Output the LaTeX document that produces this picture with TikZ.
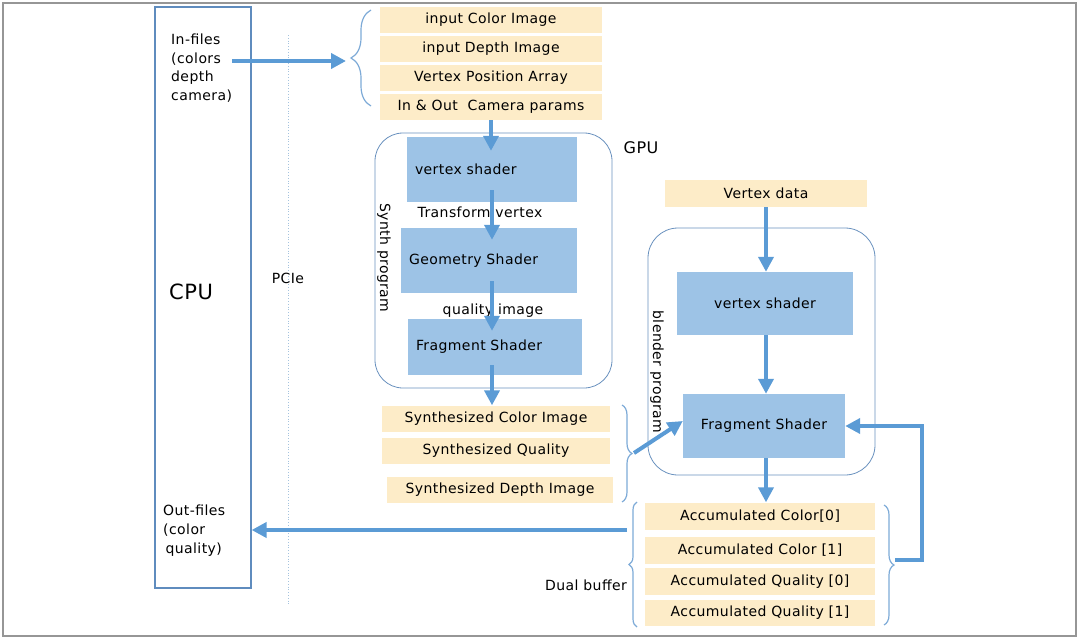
\documentclass[tikz,border=0pt]{standalone}
\usepackage{fontspec}
\setmainfont[LetterSpace=3]{DejaVu Sans}
\usetikzlibrary{arrows.meta,decorations.pathreplacing}

\definecolor{notefill}{RGB}{253,236,200}
\definecolor{shadefill}{RGB}{157,195,230}
\definecolor{flowblue}{RGB}{91,155,213}
\definecolor{progline}{RGB}{105,145,190}
\definecolor{cpuline}{RGB}{95,140,190}
\definecolor{brline}{RGB}{125,170,215}
\definecolor{pcieline}{RGB}{165,195,222}
\definecolor{framegray}{RGB}{150,150,150}

\newcommand\lbl{\fontsize{14}{16}\selectfont}

\tikzset{
  note/.style={fill=notefill, inner sep=0pt, minimum height=26pt, font=\lbl},
  shade/.style={fill=shadefill, inner sep=0pt, font=\lbl},
  prog/.style={draw=progline, line width=0.8pt, rounded corners=28pt},
  flow/.style={flowblue, line width=4pt, -{Triangle[length=15pt,width=15pt]}},
  curly/.style={brline, line width=1.2pt, decorate, decoration={brace,amplitude=#1}},
}

\begin{document}
\begin{tikzpicture}[x=1pt,y=-1pt]
		%%%%% START %%%%%
		\useasboundingbox (0,0) rectangle (1078,640);
		\draw[framegray, line width=1.5pt] (3,3) rectangle (1076,636);
		
		% host side
		\node[draw=cpuline, line width=1.2pt, minimum width=96pt, minimum height=581pt, inner sep=0pt] (cpu) at (203,297.5) {};
		\node[font=\fontsize{21}{24}\selectfont] (cpulbl) at (191,292) {CPU};
		\node[font=\lbl, align=left, anchor=north west, inner sep=0pt] (infiles) at (171,34) {In-files\\[2.5pt](colors\\[2.5pt]depth\\[2.5pt]camera)};
		\node[font=\lbl, align=left, anchor=north west, inner sep=0pt] (outfiles) at (163,505) {Out-files\\[3pt](color\\[3pt]\,quality)};
		
		\draw[pcieline, line width=0.8pt, dotted] (288,35) -- (288,605);
		\node[font=\lbl] (pcie) at (288,278) {PCIe};
		
		% inputs
		\node[note, minimum width=222pt] (incol) at (491,20) {input Color Image};
		\node[note, minimum width=222pt] (indep) at (491,49) {input Depth Image};
		\node[note, minimum width=222pt] (invtx) at (491,78) {Vertex Position Array};
		\node[note, minimum width=222pt] (incam) at (491,107) {In \& Out \ Camera params};
		\draw[curly=20pt] (371,106) -- (371,10);
		\coordinate (inbr) at (346,61);
		\draw[flow] (infiles.east |- inbr) -- (inbr);
		
		% synth program
		\node[font=\fontsize{16}{18}\selectfont] (gpu) at (641,148) {GPU};
		\draw[prog] (375,133) rectangle (612,388);
		\node[font=\lbl, rotate=-90] (synlbl) at (384,258) {Synth program};
		\node[shade, text width=154pt, inner xsep=8pt, minimum height=65pt, align=left] (sv) at (492,169.5) {vertex shader};
		\node[shade, text width=160pt, inner xsep=8pt, minimum height=65pt, align=left] (sg) at (489,260.5) {Geometry Shader};
		\node[shade, text width=158pt, inner xsep=8pt, minimum height=56pt, align=left] (sf) at (495,347) {Fragment Shader};
		\node[font=\lbl] (tv) at (480,212) {Transform vertex};
		\node[font=\lbl] (qi) at (493,311) {quality image};
		\draw[flow] (incam.south) -- ([yshift=-14pt]incam.south |- sv.north);
		\draw[flow, shorten <=-12pt, shorten >=-12pt] (sv.south) -- (sv.south |- sg.north);
		\draw[flow, shorten <=-12pt, shorten >=-12pt] (sv.south |- sg.south) -- (sv.south |- sf.north);
		
		% synthesized outputs
		\node[note, minimum width=228pt] (sycol) at (496,418.5) {Synthesized Color Image};
		\node[note, minimum width=228pt] (syqua) at (496,451) {Synthesized Quality};
		\node[note, minimum width=226pt] (sydep) at (500,490) {Synthesized Depth Image};
		\draw[flow, shorten <=-10pt] (sv.south |- sf.south) -- (sv.south |- sycol.north);
		\draw[curly=10pt] (622,405) -- (622,502);
		\coordinate (sybr) at (634,453);
		
		% blender program
		\node[note, minimum width=202pt, minimum height=27pt] (vdata) at (766,193.5) {Vertex data};
		\draw[prog, rounded corners=30pt] (648,228) rectangle (875,475);
		\node[font=\lbl, rotate=-90] (blelbl) at (657,372) {blender program};
		\node[shade, minimum width=176pt, minimum height=63pt] (bv) at (765,303.5) {vertex shader};
		\node[shade, minimum width=162pt, minimum height=64pt] (bf) at (764,426) {Fragment Shader};
		\draw[flow] (vdata.south) -- (vdata.south |- bv.north);
		\draw[flow] (vdata.south |- bv.south) -- (vdata.south |- bf.north);
		\draw[flow] (sybr) -- ([yshift=5pt]bf.west);
		
		% accumulation buffers
		\node[note, minimum width=230pt, minimum height=27pt] (acc0) at (760,516) {Accumulated Color[0]};
		\node[note, minimum width=230pt, minimum height=27pt] (acc1) at (760,550) {Accumulated Color [1]};
		\node[note, minimum width=230pt, minimum height=27pt] (acq0) at (760,581.5) {Accumulated Quality [0]};
		\node[note, minimum width=230pt, minimum height=26pt] (acq1) at (760,612.5) {Accumulated Quality [1]};
		\draw[flow] (vdata.south |- bf.south) -- (vdata.south |- acc0.north);
		\draw[curly=8pt] (637,627) -- (637,502);
		\node[font=\lbl] (dual) at (586,585) {Dual buffer};
		\draw[curly=10pt] (884,505) -- (884,625);
		\coordinate (accbr) at (895,560);
		\draw[flow] (accbr) -- ++(27,0) |- (bf.east);
		
		\coordinate (outsrc) at (627,530);
		\draw[flow] (outsrc) -- (outsrc -| cpu.east);
		
		%%%%% END %%%%%
	\end{tikzpicture}
\end{document}
